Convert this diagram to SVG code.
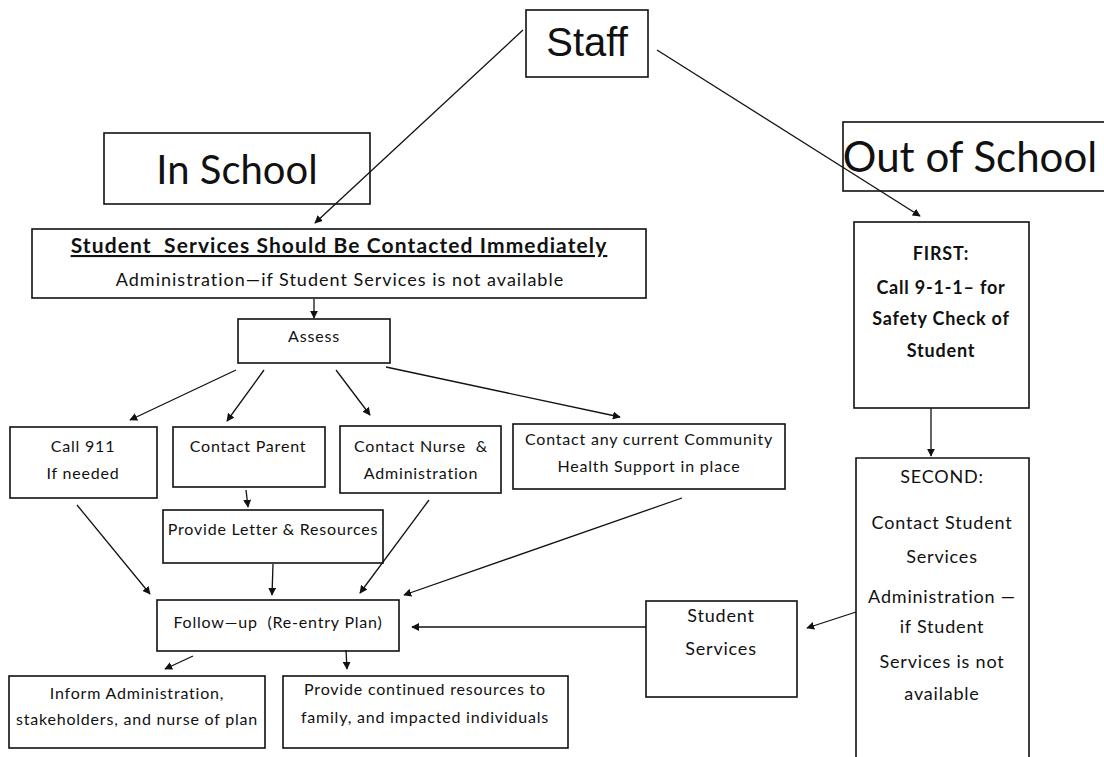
<svg xmlns="http://www.w3.org/2000/svg" width="1104" height="757" viewBox="0 0 1104 757">
<defs>
<style>
.box{fill:none;stroke:#111;stroke-width:1.6}
.t{font-family:Lato,"Open Sans",sans-serif;fill:#111;text-anchor:middle;white-space:pre}
.s{font-size:16px;letter-spacing:0.8px}
.r{font-size:18px;letter-spacing:0.8px}
.big{font-size:40px}
.c{stroke:#111;stroke-width:1.3;fill:none;marker-end:url(#ah)}
</style>
<marker id="ah" viewBox="0 0 10 10" refX="9" refY="5" markerWidth="8" markerHeight="8" markerUnits="userSpaceOnUse" orient="auto">
<path d="M0,0 L10,5 L0,10 z" fill="#111"/>
</marker>
</defs>
<rect width="1104" height="757" fill="#fff"/>
<g id="connectors">
<line class="c" x1="523" y1="30" x2="315" y2="223"/>
<line class="c" x1="657" y1="50" x2="920" y2="216"/>
<line class="c" x1="314" y1="299" x2="314" y2="318"/>
<line class="c" x1="236" y1="370" x2="130" y2="420"/>
<line class="c" x1="264" y1="370" x2="227" y2="421"/>
<line class="c" x1="336" y1="370" x2="370" y2="415"/>
<line class="c" x1="386" y1="367" x2="620" y2="417"/>
<line class="c" x1="246" y1="490" x2="248" y2="507"/>
<line class="c" x1="77" y1="505" x2="150" y2="594"/>
<line class="c" x1="273" y1="564" x2="272" y2="595"/>
<line class="c" x1="429" y1="500" x2="360" y2="593"/>
<line class="c" x1="682" y1="498" x2="404" y2="595"/>
<line class="c" x1="646" y1="627" x2="412" y2="627"/>
<line class="c" x1="856" y1="612" x2="807" y2="628"/>
<line class="c" x1="931" y1="408" x2="931" y2="456"/>
<line class="c" x1="193" y1="656" x2="165" y2="669"/>
<line class="c" x1="346" y1="650" x2="347" y2="669"/>
</g>
<g id="staff">
<rect class="box" x="526" y="10" width="122" height="67"/>
<text x="587" y="56" style="font-family:'Liberation Sans',Arial,sans-serif;font-size:40px;text-anchor:middle;fill:#111">Staff</text>
</g>
<g id="in-school">
<rect class="box" x="104" y="133" width="266" height="71"/>
<text class="t big" x="237" y="184">In School</text>
</g>
<g id="out-of-school">
<rect class="box" x="843" y="122" width="262" height="69"/>
<text class="t" x="970" y="172" style="font-size:42px">Out of School</text>
</g>
<g id="student-services-immediate">
<rect class="box" x="32" y="229" width="614" height="69"/>
<text class="t" x="339" y="253" style="font-size:21px;letter-spacing:1.1px;font-weight:bold;text-decoration:underline">Student  Services Should Be Contacted Immediately</text>
<text class="t" x="340" y="286" style="font-size:18px;letter-spacing:1px">Administration—if Student Services is not available</text>
</g>
<g id="assess">
<rect class="box" x="238" y="319" width="152" height="44"/>
<text class="t s" x="314" y="342">Assess</text>
</g>
<g id="call-911">
<rect class="box" x="10" y="427" width="147" height="71"/>
<text class="t s" x="83" y="452">Call 911</text>
<text class="t s" x="83" y="479">If needed</text>
</g>
<g id="contact-parent">
<rect class="box" x="173" y="427" width="152" height="60"/>
<text class="t s" x="248" y="452">Contact Parent</text>
</g>
<g id="contact-nurse">
<rect class="box" x="340" y="426" width="161" height="67"/>
<text class="t s" x="421" y="452">Contact Nurse  &amp;</text>
<text class="t s" x="421" y="479">Administration</text>
</g>
<g id="community">
<rect class="box" x="513" y="424" width="272" height="65"/>
<text class="t s" x="649" y="445">Contact any current Community</text>
<text class="t s" x="649" y="472">Health Support in place</text>
</g>
<g id="provide-letter">
<rect class="box" x="163" y="510" width="220" height="53"/>
<text class="t s" x="273" y="535">Provide Letter &amp; Resources</text>
</g>
<g id="follow-up">
<rect class="box" x="157" y="600" width="242" height="51"/>
<text class="t s" x="278" y="628">Follow—up  (Re-entry Plan)</text>
</g>
<g id="student-services">
<rect class="box" x="646" y="601" width="151" height="96"/>
<text class="t r" x="721" y="622">Student</text>
<text class="t r" x="721" y="655">Services</text>
</g>
<g id="inform">
<rect class="box" x="9" y="676" width="256" height="72"/>
<text class="t s" x="137" y="699">Inform Administration,</text>
<text class="t s" x="137" y="725">stakeholders, and nurse of plan</text>
</g>
<g id="provide-continued">
<rect class="box" x="283" y="676" width="285" height="72"/>
<text class="t s" x="425" y="695">Provide continued resources to</text>
<text class="t s" x="425" y="723">family, and impacted individuals</text>
</g>
<g id="first">
<rect class="box" x="854" y="222" width="175" height="186"/>
<text class="t r" x="941" y="260" style="font-weight:bold">FIRST:</text>
<text class="t r" x="941" y="294" style="font-weight:bold">Call 9-1-1– for</text>
<text class="t r" x="941" y="325" style="font-weight:bold">Safety Check of</text>
<text class="t r" x="941" y="357" style="font-weight:bold">Student</text>
</g>
<g id="second">
<path class="box" d="M856,760 L856,458 L1029,458 L1029,760"/>
<text class="t r" x="942" y="483">SECOND:</text>
<text class="t r" x="942" y="529">Contact Student</text>
<text class="t r" x="942" y="563">Services</text>
<text class="t r" x="942" y="603">Administration —</text>
<text class="t r" x="942" y="633">if Student</text>
<text class="t r" x="942" y="668">Services is not</text>
<text class="t r" x="942" y="700">available</text>
</g>
</svg>
